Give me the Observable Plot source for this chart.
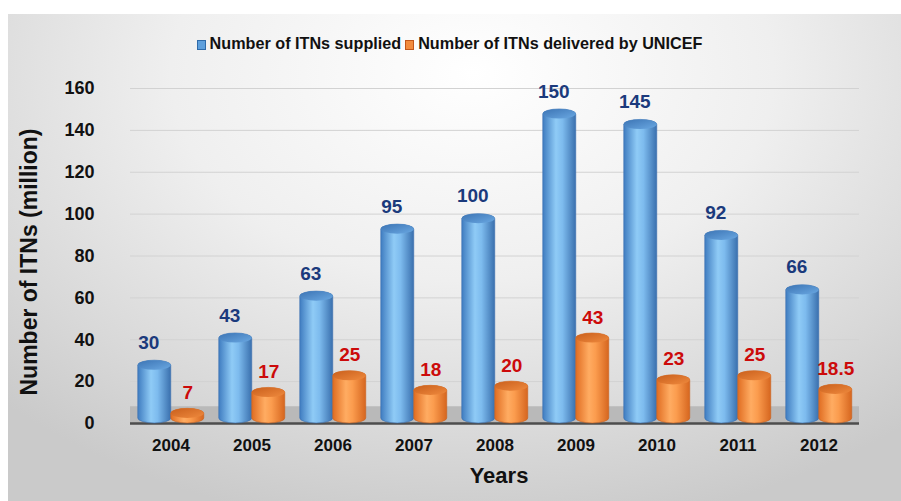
<!DOCTYPE html>
<html>
<head>
<meta charset="utf-8">
<script src="https://cdn.jsdelivr.net/npm/d3@7"></script>
<script src="https://cdn.jsdelivr.net/npm/@observablehq/plot@0.6"></script>
<style>
  html, body { margin: 0; padding: 0; background: #ffffff; }
  #wrap { position: relative; width: 901px; height: 501px; overflow: hidden; font-family: "Liberation Sans", Arial, sans-serif; }
  #bg { position: absolute; left: 8px; top: 14px; width: 893px; height: 487px;
        background: radial-gradient(ellipse 75% 95% at 52% 12%, #ffffff 0%, #efefef 45%, #d8d8d8 80%, #cacaca 100%); }
  #legend { position: absolute; top: 34px; left: 0; width: 899px; text-align: center; font-weight: bold; font-size: 16.2px; color: #111; white-space: nowrap; }
  #legend span.sw { display: inline-block; width: 9px; height: 10px; vertical-align: -1px; margin-right: 4px; box-sizing: border-box; }
  #legend span.item { margin: 0 2px; }
  #chart { position: absolute; left: 0; top: 0; }
  #ytitle { position: absolute; left: 29px; top: 262px; transform: translate(-50%, -50%) rotate(-90deg); font-weight: bold; font-size: 23px; color: #111; white-space: nowrap; }
  #xtitle { position: absolute; left: 499px; top: 476px; transform: translate(-50%, -50%); font-weight: bold; font-size: 22px; color: #111; white-space: nowrap; }
</style>
</head>
<body>
<svg width="0" height="0" style="position:absolute">
  <defs>
    <linearGradient id="gBlue" x1="0" x2="1" y1="0" y2="0">
      <stop offset="0%" stop-color="#3f7cc0"/>
      <stop offset="40%" stop-color="#8fcbf6"/>
      <stop offset="60%" stop-color="#7dbbee"/>
      <stop offset="100%" stop-color="#3a70ae"/>
    </linearGradient>
    <linearGradient id="gBlueTop" x1="0" x2="1" y1="0" y2="1">
      <stop offset="0%" stop-color="#3c74b4"/>
      <stop offset="100%" stop-color="#6aa8e2"/>
    </linearGradient>
    <linearGradient id="gOrange" x1="0" x2="1" y1="0" y2="0">
      <stop offset="0%" stop-color="#e06d22"/>
      <stop offset="40%" stop-color="#ffac62"/>
      <stop offset="60%" stop-color="#fb9c4e"/>
      <stop offset="100%" stop-color="#d6661f"/>
    </linearGradient>
    <linearGradient id="gOrangeTop" x1="0" x2="1" y1="0" y2="1">
      <stop offset="0%" stop-color="#c95f1c"/>
      <stop offset="100%" stop-color="#ef8a3e"/>
    </linearGradient>
  </defs>
</svg>
<div id="wrap">
  <div id="bg"></div>
  <div id="chart"></div>
  <div id="legend"></div>
  <div id="ytitle">Number of ITNs (million)</div>
  <div id="xtitle">Years</div>
</div>
<script>
// ---- data ----
const years = ["2004", "2005", "2006", "2007", "2008", "2009", "2010", "2011", "2012"];
const supplied = [30, 43, 63, 95, 100, 150, 145, 92, 66];
const delivered = [7, 17, 25, 18, 20, 43, 23, 25, 18.5];
const yTicks = [0, 20, 40, 60, 80, 100, 120, 140, 160];
const seriesKeys = ["supplied", "delivered"];
const seriesNames = ["Number of ITNs supplied", "Number of ITNs delivered by UNICEF"];
const seriesSwatch = [
  {fill: "#5d9fdc", stroke: "#2e6aa8"},
  {fill: "#f28c3e", stroke: "#c2571a"}
];

const suppRows = years.map((y, i) => ({year: y, series: "supplied", value: supplied[i]}));
const delRows = years.map((y, i) => ({year: y, series: "delivered", value: delivered[i]}));

// legend
const legend = document.getElementById("legend");
legend.innerHTML = seriesNames.map((n, i) =>
  `<span class="item"><span class="sw" style="background:${seriesSwatch[i].fill};border:1px solid ${seriesSwatch[i].stroke}"></span>${n}</span>`
).join("");

const capDepth = 4.6;
const font = "'Liberation Sans', Arial, sans-serif";

const chart = Plot.plot({
  width: 901,
  height: 501,
  marginTop: 88,
  marginBottom: 78,
  marginLeft: 127.25,
  marginRight: 40.25,
  style: {background: "none", fontFamily: font, fontWeight: "bold", color: "#111", fontSize: "18px"},
  fx: {domain: years, padding: 0, label: null},
  x: {domain: seriesKeys, paddingInner: 0, paddingOuter: 0.2, axis: null},
  y: {domain: [0, 160], ticks: yTicks, label: null},
  marks: [
    Plot.ruleY(yTicks.filter(t => t > 0), {stroke: "#d2d2d2", strokeWidth: 1}),
    Plot.rect([0], {y1: 0, y2: 8, fill: "#b9b9b9"}),
    Plot.ruleY([0], {stroke: "#4d4d4d", strokeWidth: 2.5}),
    Plot.axisY({ticks: yTicks, tickSize: 0, tickPadding: 36, fontSize: 18, fontWeight: "bold", label: null}),
    Plot.axisFx({anchor: "bottom", tickSize: 0, tickPadding: 15, fontSize: 17, fontWeight: "bold", label: null}),
    // supplied cylinders
    Plot.barY(suppRows, {fx: "year", x: "series", y: "value", fill: "url(#gBlue)", stroke: "#3a6fae", strokeWidth: 0.6, rx: 17, ry: 5}),
    Plot.barY(suppRows, {fx: "year", x: "series", y1: d => d.value - capDepth, y2: "value", fill: "url(#gBlueTop)", rx: 17, ry: 5}),
    // delivered cylinders
    Plot.barY(delRows, {fx: "year", x: "series", y: "value", fill: "url(#gOrange)", stroke: "#c9611f", strokeWidth: 0.6, rx: 17, ry: 5}),
    Plot.barY(delRows, {fx: "year", x: "series", y1: d => d.value - capDepth, y2: "value", fill: "url(#gOrangeTop)", rx: 17, ry: 5}),
    // value labels
    Plot.text(suppRows, {fx: "year", x: "series", y: "value", text: d => String(d.value), dy: -18, dx: -6, fill: "#1b3a7c", fontSize: 19, fontWeight: "bold"}),
    Plot.text(delRows, {fx: "year", x: "series", y: "value", text: d => String(d.value), dy: -16, fill: "#cc0a0a", fontSize: 19, fontWeight: "bold"})
  ]
});
document.getElementById("chart").appendChild(chart);
</script>
</body>
</html>
